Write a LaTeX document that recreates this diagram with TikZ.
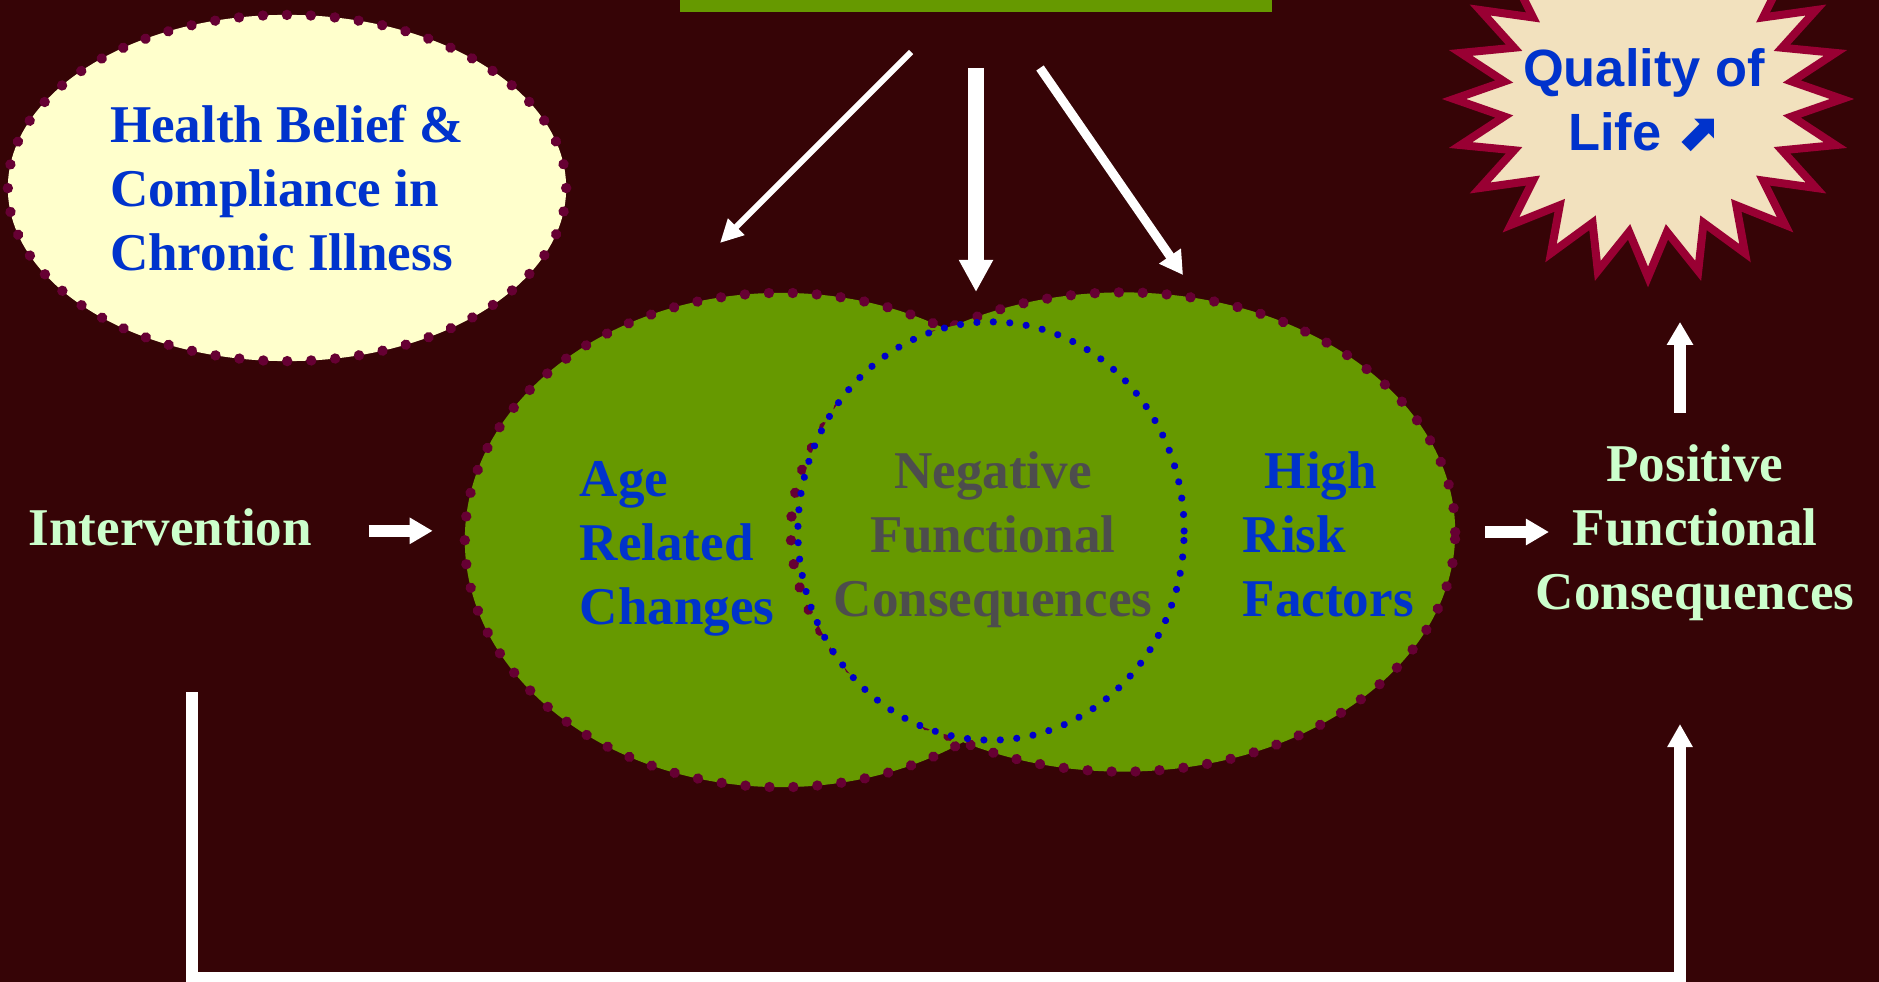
\documentclass[tikz,border=0pt]{standalone}
\usepackage{fontspec}
\setmainfont{Liberation Serif}
\newfontfamily\qolfont{Liberation Sans}
\newfontfamily\symfont{DejaVu Sans}
\usetikzlibrary{shapes.geometric, arrows.meta, decorations.markings}
\definecolor{bgmaroon}{HTML}{360406}
\definecolor{olivefill}{HTML}{669900}
\definecolor{creamfill}{HTML}{FFFFCC}
\definecolor{dotplum}{HTML}{660033}
\definecolor{textblue}{HTML}{0033CC}
\definecolor{dotblue}{HTML}{0000CC}
\definecolor{neggray}{HTML}{4D4D4D}
\definecolor{mintgreen}{HTML}{CCFFCC}
\definecolor{starred}{HTML}{990033}
\definecolor{parchment}{HTML}{F2E1BE}

\begin{document}
\begin{tikzpicture}[x=0.01cm, y=-0.01cm,
    lbl/.style={font=\fontsize{15.1}{18.2}\selectfont\bfseries, inner sep=0pt},
    bluelbl/.style={lbl, text=textblue, align=left},
    mintlbl/.style={lbl, text=mintgreen, align=center},
    qollbl/.style={font=\qolfont\fontsize{14.9}{18.2}\selectfont\bfseries, text=textblue, align=center, inner sep=0pt},
    plumdots/.style={postaction={decorate, decoration={markings, mark=between positions 0 and 1 step 0.24cm with {\fill[dotplum] (0,0) circle (0.052cm);}}}},
    bluedots/.style={postaction={decorate, decoration={markings, mark=between positions 0 and 1 step 0.165cm with {\fill[dotblue] (0,0) circle (0.036cm);}}}},
    venn/.style={ellipse, fill=olivefill, plumdots},
    starburst/.style={fill=parchment, draw=starred, line width=0.08cm, line join=miter},
    slimarrow/.style={white, line width=0.06cm, -{Triangle[width=0.22cm, length=0.23cm]}},
    midarrow/.style={white, line width=0.09cm, -{Triangle[width=0.25cm, length=0.23cm]}},
    widearrow/.style={white, line width=0.155cm, -{Triangle[width=0.32cm, length=0.32cm]}},
    flatarrow/.style={white, line width=0.12cm, -{Triangle[width=0.25cm, length=0.23cm]}},
    feedback/.style={white, line width=0.12cm, -{Triangle[width=0.24cm, length=0.23cm]}}
]
\useasboundingbox (0,0) rectangle (1879,982);
\clip (0,0) rectangle (1879,982);
\fill[bgmaroon] (0,0) rectangle (1879,982);

\node[fill=olivefill, minimum width=5.92cm, minimum height=0.64cm, inner sep=0pt] (bar) at (976,-20) {};

\node[ellipse, fill=creamfill, plumdots, minimum width=5.58cm, minimum height=3.46cm, bluelbl] (health) at (287,188) {Health Belief \&\\Compliance in\\Chronic Illness};

\filldraw[starburst] plot[samples=49, domain=0:48, variable=\k] ({1648+(194-49*mod(round(\k),2))*cos(7.5*\k)}, {99+(178-44*mod(round(\k),2))*sin(7.5*\k)}) -- cycle;
\node[qollbl] (qol) at (1644,100) {Quality of\\Life {\symfont ⬈}};

\node[venn, minimum width=6.32cm, minimum height=4.94cm] (agecirc) at (781,540) {};
\node[venn, minimum width=6.64cm, minimum height=4.79cm] (riskcirc) at (1123,532) {};
\node[ellipse, fill=olivefill, bluedots, minimum width=3.86cm, minimum height=4.18cm] (negcirc) at (991,531) {};

\node[bluelbl, anchor=north west] (agerel) at (579,461) {Age\\Related\\Changes};
\node[lbl, text=neggray, align=center, anchor=north] (negfc) at (993,451) {Negative\\Functional\\Consequences};
\node[bluelbl, anchor=north west] (highrisk) at (1242,451) {\hspace{0.22cm}High\\Risk\\Factors};

\node[mintlbl, anchor=base west] (intervention) at (28,545) {Intervention};
\node[mintlbl, anchor=north] (positive) at (1695,444) {Positive\\Functional\\Consequences};

\coordinate (barL) at (911,52);
\coordinate (ageTop) at (720,243);
\coordinate (barM) at (976,68);
\coordinate (negTop) at (976,292);
\coordinate (barR) at (1040,68);
\coordinate (riskTop) at (1183,275);
\coordinate (fbL) at (192,692);
\coordinate (fbR) at (1680,724);

\draw[slimarrow] (barL) -- (ageTop);
\draw[widearrow] (barM) -- (negTop);
\draw[midarrow] (barR) -- (riskTop);
\draw[flatarrow] ([xshift=0.56cm, yshift=-0.04cm]intervention.east) -- ([xshift=1.2cm, yshift=-0.04cm]intervention.east);
\draw[flatarrow] ([xshift=0.29cm]riskcirc.east) -- ([xshift=0.93cm]riskcirc.east);
\draw[flatarrow] ([xshift=-0.15cm, yshift=0.31cm]positive.north) -- ([xshift=-0.15cm, yshift=1.22cm]positive.north);
\draw[feedback] (fbL) -- ++(0,286) -| (fbR);
\end{tikzpicture}
\end{document}
